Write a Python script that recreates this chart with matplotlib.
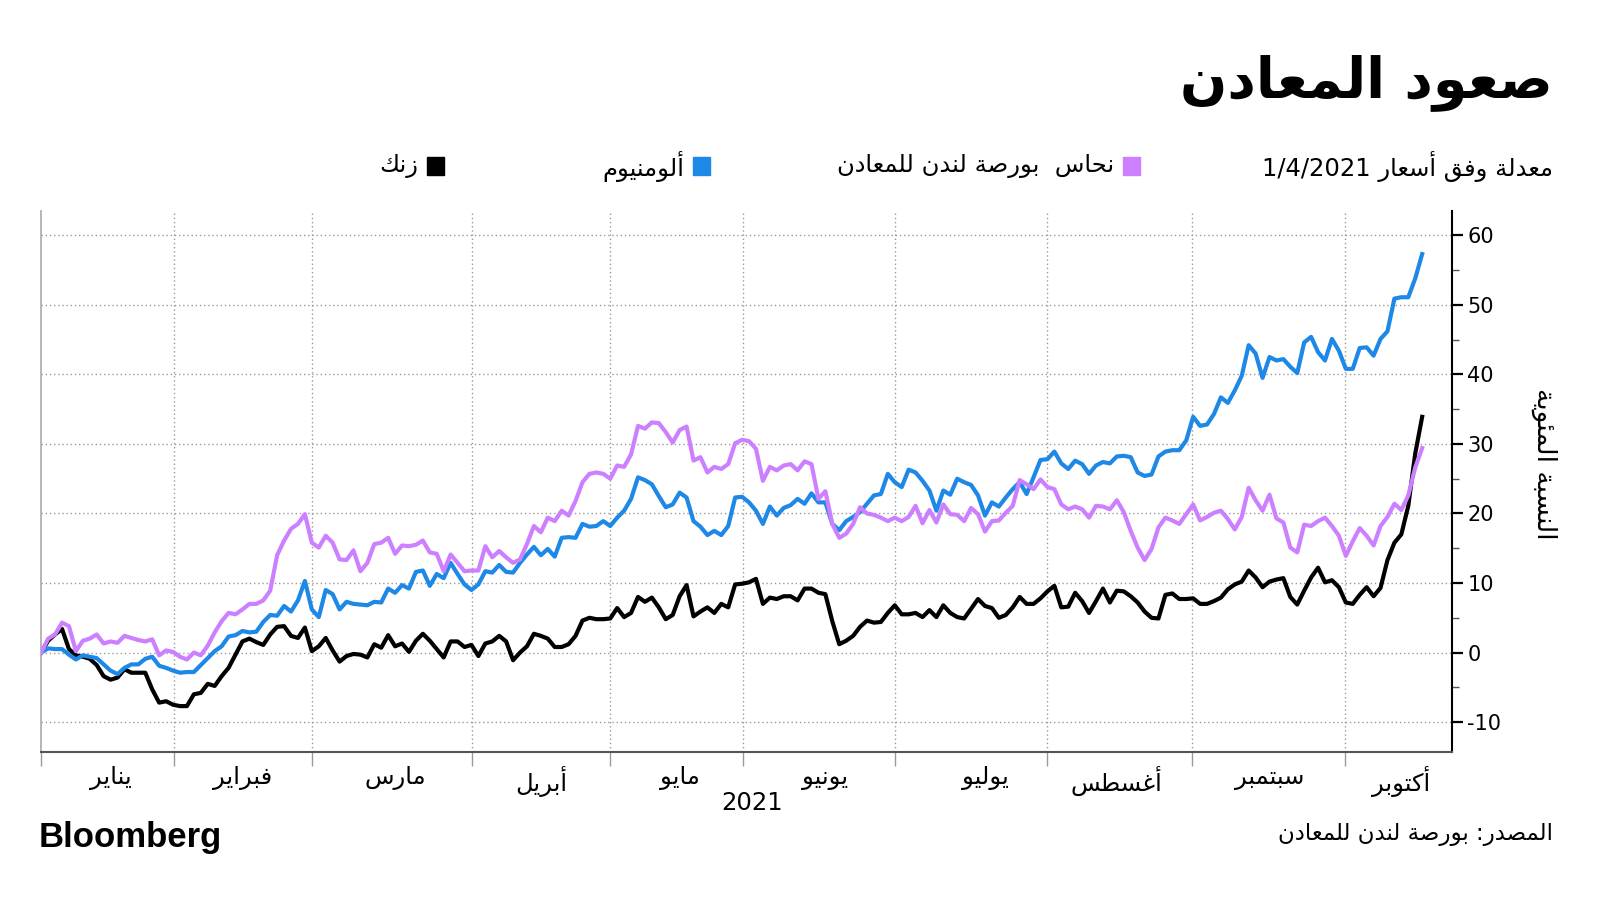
import matplotlib
matplotlib.use('Agg')
import matplotlib.pyplot as plt
from matplotlib.patches import Rectangle
from matplotlib.ticker import FixedLocator, FixedFormatter, NullFormatter

# ---------------- data (percent change vs 1/4/2021, one value per trading day) ----------------
zinc = [0, 1.7, 2.6, 3.4, 0.5, -0.4, -0.6, -0.9, -1.8, -3.4,
        -3.9, -3.6, -2.4, -2.9, -2.9, -2.9, -5.3, -7.2, -7.0, -7.5,
        -7.7, -7.7, -6.0, -5.8, -4.5, -4.8, -3.4, -2.2, -0.3, 1.6,
        2.0, 1.5, 1.1, 2.6, 3.7, 3.8, 2.4, 2.1, 3.6, 0.2,
        0.9, 2.1, 0.3, -1.3, -0.5, -0.2, -0.3, -0.7, 1.2, 0.7,
        2.5, 0.9, 1.3, 0.1, 1.7, 2.7, 1.7, 0.5, -0.7, 1.6,
        1.6, 0.8, 1.1, -0.5, 1.3, 1.6, 2.4, 1.6, -1.1, 0.0,
        0.9, 2.7, 2.4, 2.0, 0.8, 0.8, 1.2, 2.4, 4.6, 5.0,
        4.8, 4.8, 4.9, 6.4, 5.1, 5.7, 8.0, 7.3, 7.9, 6.5,
        4.8, 5.4, 8.1, 9.7, 5.2, 5.9, 6.5, 5.7, 7.0, 6.5,
        9.8, 9.9, 10.1, 10.6, 7.0, 7.9, 7.7, 8.1, 8.1, 7.5,
        9.2, 9.2, 8.6, 8.4, 4.5, 1.2, 1.7, 2.4, 3.7, 4.6,
        4.3, 4.4, 5.7, 6.8, 5.5, 5.5, 5.7, 5.1, 6.1, 5.1,
        6.8, 5.7, 5.1, 4.9, 6.3, 7.7, 6.7, 6.4, 5.0, 5.4,
        6.5, 8.0, 7.0, 7.0, 7.8, 8.8, 9.6, 6.5, 6.6, 8.6,
        7.4, 5.7, 7.4, 9.2, 7.2, 8.9, 8.8, 8.1, 7.2, 5.9,
        5.0, 4.9, 8.3, 8.5, 7.7, 7.7, 7.8, 7.0, 7.0, 7.4,
        7.9, 9.1, 9.8, 10.2, 11.8, 10.8, 9.4, 10.2, 10.5, 10.7,
        8.0, 6.9, 8.9, 10.8, 12.2, 10.1, 10.4, 9.4, 7.2, 7.0,
        8.3, 9.4, 8.1, 9.3, 13.3, 15.8, 17.0, 21.1, 28.6, 33.9]

aluminium = [0, 0.6, 0.5, 0.5, -0.3, -1.0, -0.4, -0.6, -0.8, -1.7,
             -2.6, -3.1, -2.2, -1.7, -1.7, -0.9, -0.6, -1.9, -2.2, -2.6,
             -2.9, -2.8, -2.8, -1.8, -0.8, 0.2, 0.9, 2.3, 2.5, 3.1,
             2.9, 3.0, 4.4, 5.4, 5.3, 6.7, 5.9, 7.5, 10.3, 6.2,
             5.1, 9.0, 8.4, 6.2, 7.3, 7.0, 6.9, 6.8, 7.3, 7.2,
             9.2, 8.6, 9.7, 9.2, 11.6, 11.8, 9.6, 11.3, 10.7, 12.9,
             11.3, 9.8, 9.0, 9.8, 11.7, 11.5, 12.6, 11.6, 11.5, 12.9,
             14.1, 15.2, 14.0, 14.9, 13.8, 16.5, 16.6, 16.5, 18.5, 18.1,
             18.2, 18.9, 18.2, 19.4, 20.4, 22.1, 25.2, 24.8, 24.2, 22.5,
             20.9, 21.3, 23.0, 22.3, 18.9, 18.1, 16.9, 17.5, 16.9, 18.2,
             22.3, 22.4, 21.6, 20.4, 18.5, 21.0, 19.7, 20.8, 21.2, 22.1,
             21.4, 22.9, 21.6, 21.6, 18.5, 17.6, 18.9, 19.5, 20.2, 21.4,
             22.6, 22.8, 25.7, 24.5, 23.8, 26.3, 25.9, 24.7, 23.3, 20.4,
             23.3, 22.7, 25.0, 24.5, 24.1, 22.6, 19.7, 21.6, 21.0, 22.3,
             23.5, 24.5, 22.8, 25.2, 27.7, 27.8, 28.9, 27.2, 26.4, 27.6,
             27.1, 25.7, 26.9, 27.4, 27.2, 28.2, 28.3, 28.1, 25.9, 25.4,
             25.6, 28.2, 28.9, 29.1, 29.1, 30.5, 33.9, 32.6, 32.8, 34.3,
             36.7, 35.9, 37.7, 39.8, 44.2, 43.0, 39.5, 42.5, 42.0, 42.2,
             41.1, 40.2, 44.6, 45.4, 43.2, 42.0, 45.1, 43.4, 40.8, 40.8,
             43.8, 43.9, 42.7, 45.1, 46.2, 50.9, 51.1, 51.1, 53.8, 57.3]

copper = [0, 2.0, 2.6, 4.3, 3.8, 0.2, 1.7, 2.0, 2.6, 1.3,
          1.6, 1.4, 2.4, 2.1, 1.8, 1.6, 1.9, -0.4, 0.3, 0.1,
          -0.6, -1.0, 0.0, -0.4, 1.0, 2.9, 4.5, 5.7, 5.5, 6.2,
          7.0, 7.0, 7.5, 8.9, 14.0, 16.1, 17.8, 18.5, 19.9, 15.8,
          15.1, 16.8, 15.8, 13.4, 13.3, 14.7, 11.7, 12.9, 15.6, 15.8,
          16.5, 14.2, 15.4, 15.3, 15.5, 16.1, 14.4, 14.2, 11.7, 14.1,
          12.9, 11.7, 11.8, 11.8, 15.3, 13.7, 14.6, 13.7, 12.9, 13.4,
          15.6, 18.2, 17.3, 19.4, 18.9, 20.4, 19.7, 21.8, 24.5, 25.7,
          25.9, 25.7, 25.0, 26.9, 26.7, 28.5, 32.6, 32.2, 33.1, 33.0,
          31.7, 30.2, 32.0, 32.5, 27.6, 28.1, 25.9, 26.7, 26.4, 27.1,
          30.1, 30.6, 30.4, 29.3, 24.7, 26.7, 26.2, 26.9, 27.1, 26.2,
          27.5, 27.1, 22.1, 23.2, 18.5, 16.5, 17.1, 18.5, 20.9, 20.0,
          19.8, 19.4, 18.9, 19.4, 18.9, 19.5, 21.1, 18.6, 20.5, 18.7,
          21.3, 19.9, 19.8, 18.9, 20.8, 19.9, 17.4, 18.9, 19.0, 20.1,
          21.1, 24.8, 24.2, 23.5, 24.9, 23.8, 23.5, 21.3, 20.6, 21.0,
          20.6, 19.4, 21.1, 21.0, 20.6, 21.9, 20.2, 17.5, 15.1, 13.3,
          14.9, 18.0, 19.4, 19.0, 18.5, 19.9, 21.3, 19.0, 19.5, 20.1,
          20.4, 19.2, 17.7, 19.5, 23.7, 21.9, 20.4, 22.7, 19.3, 18.7,
          15.1, 14.4, 18.4, 18.2, 18.9, 19.4, 18.2, 16.8, 13.9, 16.0,
          17.9, 16.8, 15.4, 18.2, 19.5, 21.4, 20.5, 22.6, 26.6, 29.4]

month_starts = [0, 19.1, 39, 62.1, 82, 101.1, 123, 145, 165.9, 187.9]
month_label_pos = [10, 29, 51, 72, 92, 113, 136, 155, 177, 196]
month_names = ['يناير', 'فبراير', 'مارس', 'أبريل', 'مايو', 'يونيو',
               'يوليو', 'أغسطس', 'سبتمبر', 'أكتوبر']
y_ticks = [-10, 0, 10, 20, 30, 40, 50, 60]
y_minor = [-5, 5, 15, 25, 35, 45, 55]
y_labels = ['-10', '0', '10', '20', '30', '40', '50', '60']

title = 'صعود المعادن'
subtitle = 'معدلة وفق أسعار 1/4/2021'
legend_names = ['نحاس  بورصة لندن للمعادن', 'ألومنيوم', 'زنك']
y_label = 'النسبة المئوية'
year_label = '2021'
source = 'المصدر: بورصة لندن للمعادن'

COL_CU = '#CC80FF'
COL_AL = '#1E88E6'
COL_ZN = '#000000'

# ---------------- minimal Arabic shaping + RTL ordering ----------------
_LET = "ءآأؤإئابةتثجحخدذرزسشصضطظعغفقكلمنهوىي"
_FORMS = {}
_code = 0xFE80
for _ch in _LET:
    _n = 1 if _ch == 'ء' else (2 if _ch in 'آأؤإاةدذرزوى' else 4)
    _FORMS[_ch] = [chr(_code + k) for k in range(_n)]
    _code += _n
_LAM_ALEF = {'آ': ('\uFEF5', '\uFEF6'), 'أ': ('\uFEF7', '\uFEF8'),
             'إ': ('\uFEF9', '\uFEFA'), 'ا': ('\uFEFB', '\uFEFC')}


def _shape(text):
    items = []
    i = 0
    while i < len(text):
        ch = text[i]
        if ch == 'ل' and i + 1 < len(text) and text[i + 1] in _LAM_ALEF:
            items.append(('LA', text[i + 1]))
            i += 2
            continue
        items.append(('C', ch))
        i += 1

    def can_next(it):
        kind, c = it
        return kind == 'C' and c in _FORMS and len(_FORMS[c]) == 4

    def can_prev(it):
        kind, c = it
        return kind == 'LA' or (c in _FORMS and len(_FORMS[c]) >= 2)

    out = []
    for k, it in enumerate(items):
        p = k > 0 and can_next(items[k - 1]) and can_prev(it)
        n = k + 1 < len(items) and can_next(it) and can_prev(items[k + 1])
        kind, c = it
        if kind == 'LA':
            out.append(_LAM_ALEF[c][1 if p else 0])
        elif c in _FORMS:
            f = _FORMS[c]
            if p and n:
                out.append(f[3])
            elif p:
                out.append(f[1])
            elif n:
                out.append(f[2])
            else:
                out.append(f[0])
        else:
            out.append(c)
    return ''.join(out)


def ar(text):
    s = _shape(text)
    runs = []
    for ch in s:
        ltr = ch.isascii() and (ch.isalnum() or ch in '/.')
        if runs and runs[-1][0] == ltr:
            runs[-1][1].append(ch)
        else:
            runs.append([ltr, [ch]])
    out = []
    for ltr, chars in reversed(runs):
        out.append(''.join(chars) if ltr else ''.join(reversed(chars)))
    return ''.join(out)


plt.rcParams['font.family'] = ['DejaVu Sans']

W, H = 1600, 900
fig = plt.figure(figsize=(16, 9), dpi=100)
fig.patch.set_facecolor('white')


def fx(px):
    return px / W


def fy(py):
    return 1 - py / H


L, R, T, B = 40.5, 1452, 211, 752
ax = fig.add_axes([fx(L), fy(B), fx(R) - fx(L), fy(T) - fy(B)])

x = list(range(len(zinc)))
ax.plot(x, zinc, color=COL_ZN, lw=3.0, solid_joinstyle='round', zorder=3)
ax.plot(x, aluminium, color=COL_AL, lw=3.0, solid_joinstyle='round', zorder=4)
ax.plot(x, copper, color=COL_CU, lw=3.0, solid_joinstyle='round', zorder=5)

ax.set_xlim(-0.1, 203.3)
ax.set_ylim(-14.3, 63.5)

# grids
for v in y_ticks:
    ax.axhline(v, color='#9a9a9a', lw=1.0, ls=(0, (1, 2)), zorder=1)
for m in month_starts[1:]:
    ax.axvline(m, color='#9a9a9a', lw=1.0, ls=(0, (1, 2)), zorder=1)

# spines
ax.spines['top'].set_visible(False)
ax.spines['left'].set_color('#b0b0b0')
ax.spines['left'].set_linewidth(1.3)
ax.spines['bottom'].set_color('#555555')
ax.spines['bottom'].set_linewidth(1.5)
ax.spines['right'].set_color('#000000')
ax.spines['right'].set_linewidth(1.5)

# y axis on the right
ax.yaxis.tick_right()
ax.yaxis.set_major_locator(FixedLocator(y_ticks))
ax.yaxis.set_major_formatter(FixedFormatter(y_labels))
ax.yaxis.set_minor_locator(FixedLocator(y_minor))
ax.tick_params(axis='y', which='major', direction='out', length=8, width=1.6,
               color='black', labelsize=15, pad=3, left=False, right=True)
ax.tick_params(axis='y', which='minor', direction='out', length=5, width=1.0,
               color='#555555', left=False, right=True)

# x axis: month boundary ticks + centered labels
ax.xaxis.set_major_locator(FixedLocator(month_starts))
ax.xaxis.set_major_formatter(NullFormatter())
ax.xaxis.set_minor_locator(FixedLocator(month_label_pos))
ax.xaxis.set_minor_formatter(FixedFormatter([ar(m) for m in month_names]))
ax.tick_params(axis='x', which='major', direction='out', length=10, width=1.0,
               color='#9a9a9a')
ax.tick_params(axis='x', which='minor', length=0, labelsize=17.5, pad=10)

ax.text(1.065, 0.532, ar(y_label), transform=ax.transAxes, rotation=270,
        ha='center', va='center', fontsize=19)

# title and legend row
fig.text(fx(1553), fy(83), ar(title), ha='right', va='center',
         fontsize=40, fontweight='bold')
fig.text(fx(1553), fy(166), ar(subtitle), ha='right', va='center', fontsize=17.5)

legend_cols = [COL_CU, COL_AL, COL_ZN]
legend_sq_left = [1123, 693, 427]
for name, col, sx in zip(legend_names, legend_cols, legend_sq_left):
    fig.patches.append(Rectangle((fx(sx), fy(175)), fx(17), 18 / H,
                                 transform=fig.transFigure, color=col))
    fig.text(fx(sx - 9), fy(166), ar(name), ha='right', va='center', fontsize=17.5)

# year label, branding, source
fig.text(fx(752), fy(803), year_label, ha='center', va='center', fontsize=17.5)
fig.text(fx(39), fy(838), 'Bloomberg', ha='left', va='center', fontsize=25,
         fontweight='bold', family='Liberation Sans')
fig.text(fx(1553), fy(834), ar(source), ha='right', va='center', fontsize=16.5)

fig.savefig('out.png', dpi=100, facecolor='white')
